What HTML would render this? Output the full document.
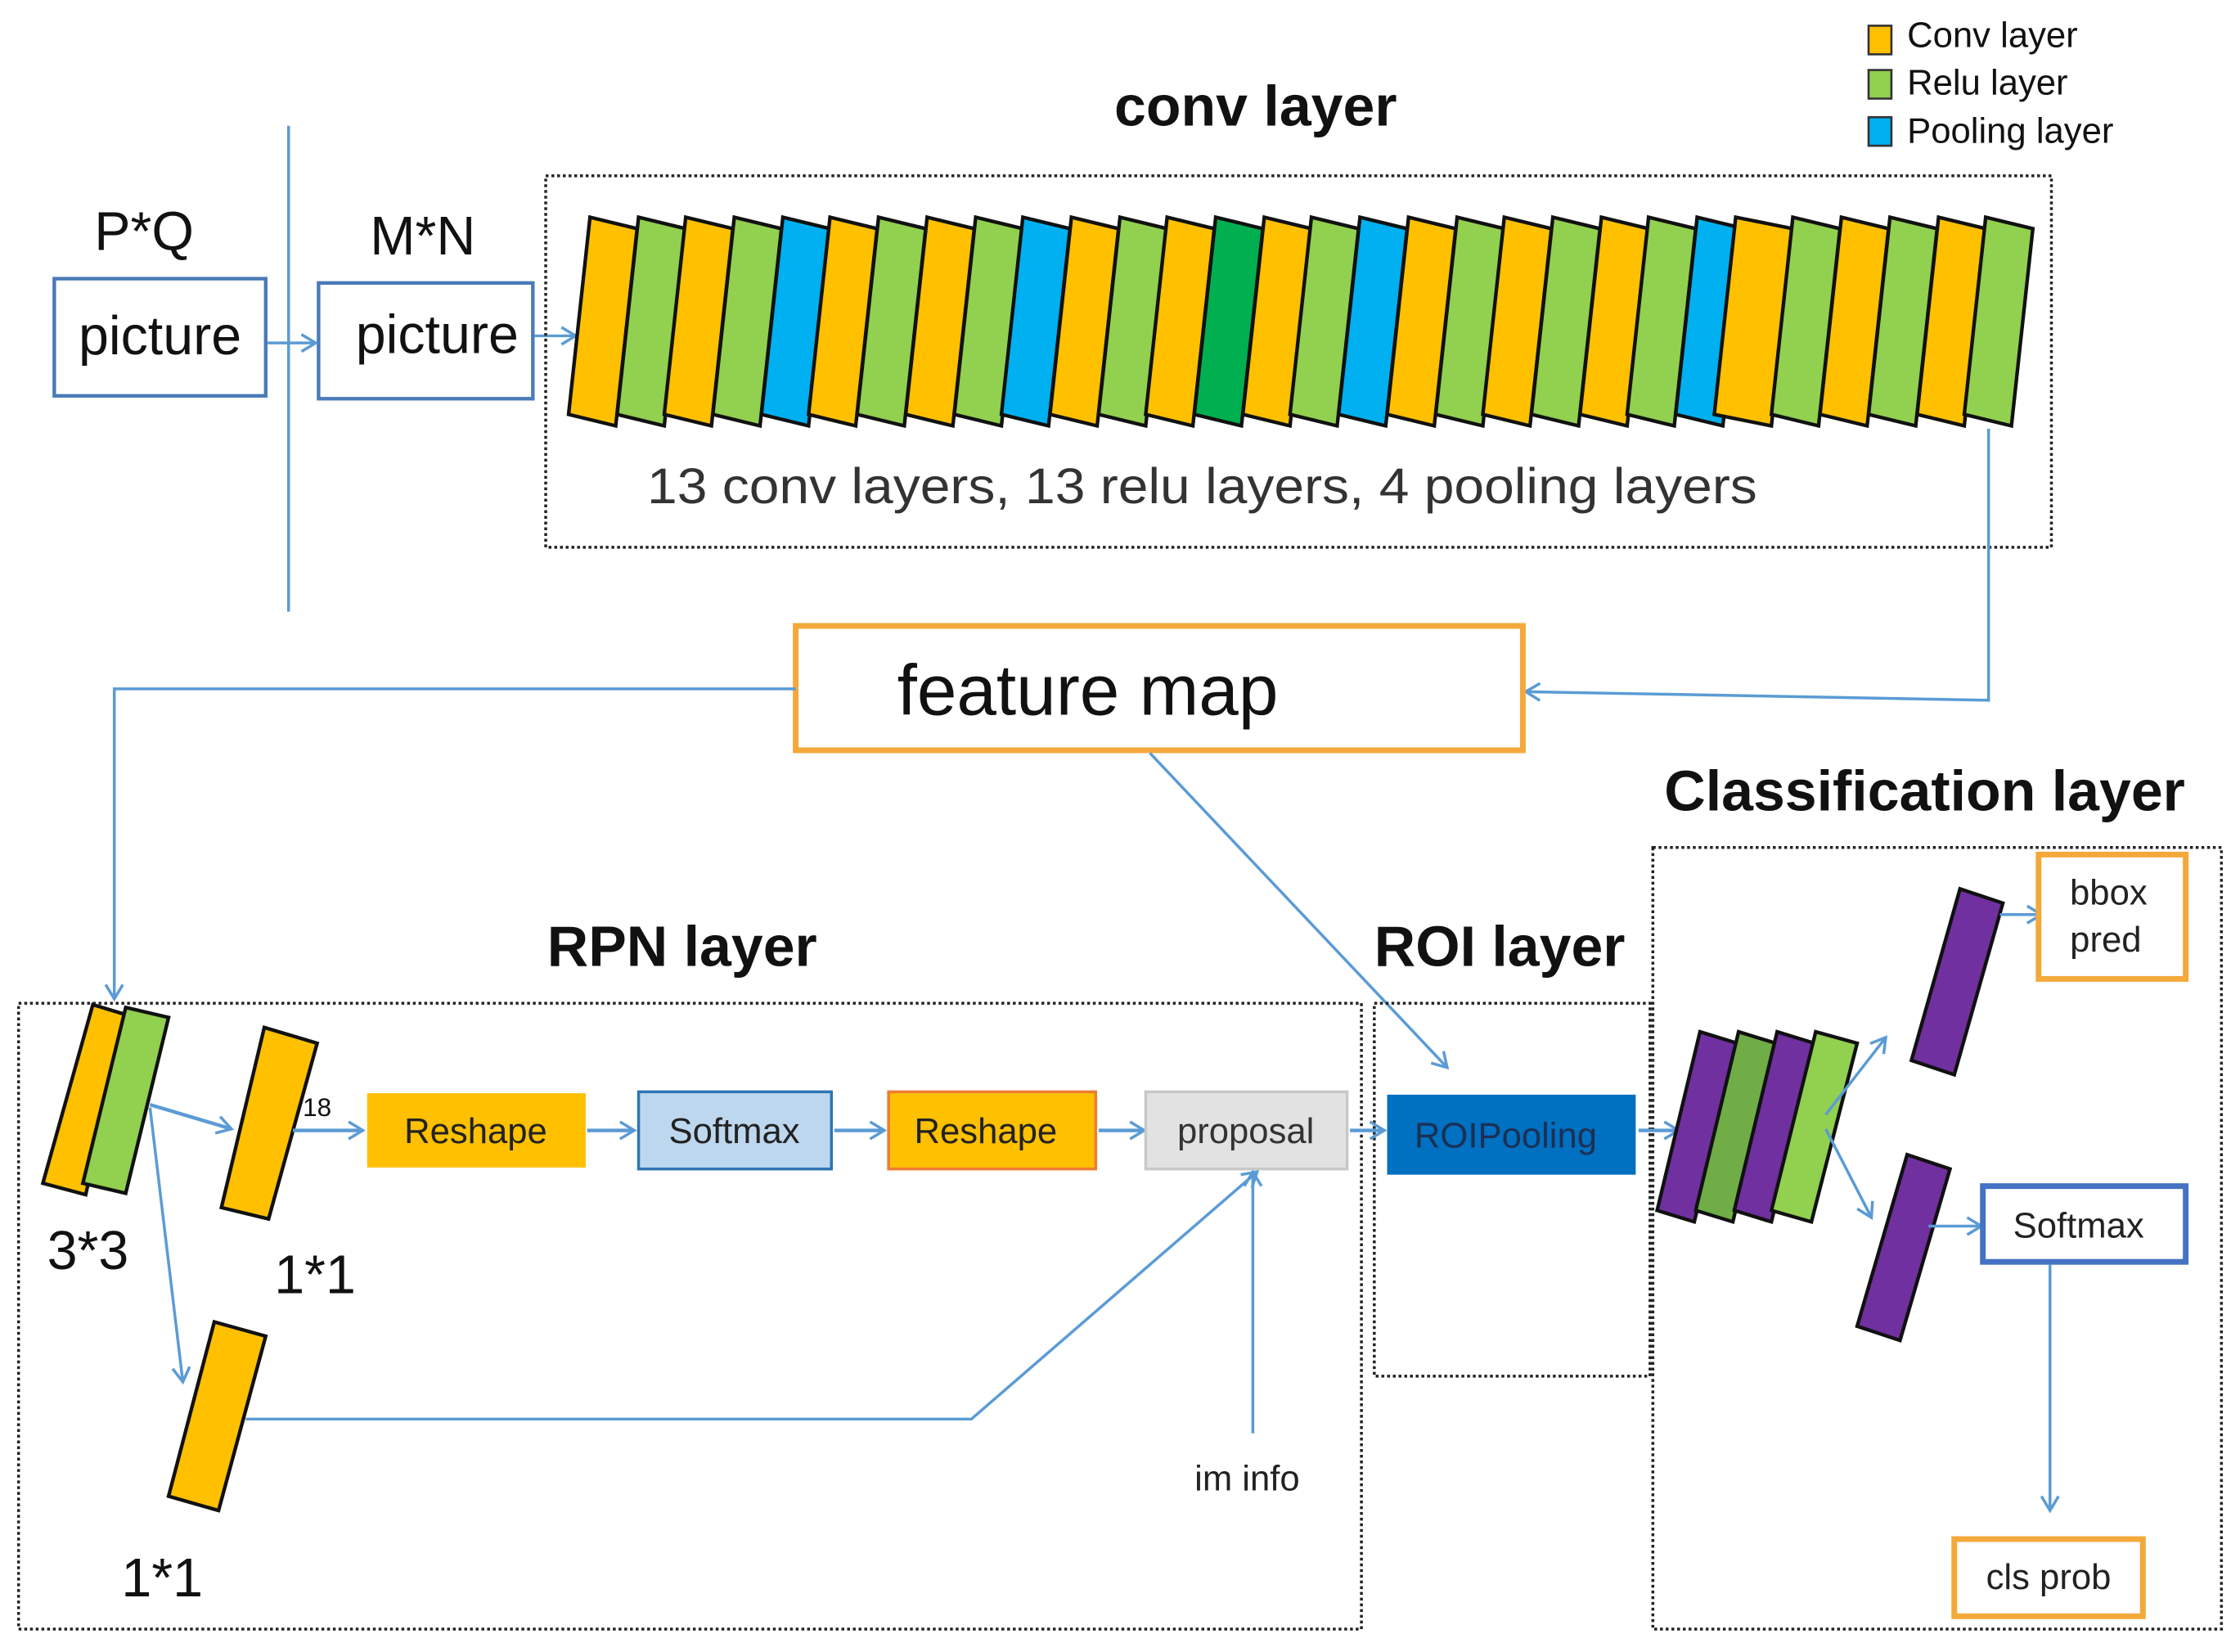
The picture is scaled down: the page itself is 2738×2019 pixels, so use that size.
<!DOCTYPE html>
<html><head><meta charset="utf-8"><style>
html,body{margin:0;padding:0;background:#fff;}
svg{display:block;}
text{font-family:"Liberation Sans Narrow","Liberation Sans",sans-serif;}
</style></head><body>
<svg width="2738" height="2019" viewBox="0 0 1568 1156" preserveAspectRatio="none" xmlns="http://www.w3.org/2000/svg">
<defs>
<marker id="a" markerWidth="14" markerHeight="14" refX="12" refY="7" orient="auto" markerUnits="userSpaceOnUse">
<polyline points="2,1 12,7 2,13" fill="none" stroke="#5b9bd5" stroke-width="2"/>
</marker>
</defs>
<rect width="1568" height="1156" fill="#fff"/>
<!-- legend -->
<rect x="1308" y="18" width="16" height="20" fill="#ffc000" stroke="#333" stroke-width="1.5"/>
<rect x="1308" y="49" width="16" height="20" fill="#92d050" stroke="#333" stroke-width="1.5"/>
<rect x="1308" y="82" width="16" height="20" fill="#00b0f0" stroke="#333" stroke-width="1.5"/>
<text x="1335" y="33" font-size="25" fill="#111">Conv layer</text>
<text x="1335" y="66" font-size="25" fill="#111">Relu layer</text>
<text x="1335" y="100" font-size="25" fill="#111">Pooling layer</text>
<text x="780" y="88" font-size="40" font-weight="bold" fill="#111">conv layer</text>
<text x="66" y="175" font-size="38" fill="#111">P*Q</text>
<text x="259" y="178" font-size="38" fill="#111">M*N</text>
<line x1="202" y1="88" x2="202" y2="428" stroke="#5b9bd5" stroke-width="2"/>
<rect x="38" y="195" width="148" height="82" fill="#fff" stroke="#4a7ab8" stroke-width="2.5"/>
<text x="112" y="248" font-size="38" text-anchor="middle" fill="#111">picture</text>
<rect x="223" y="198" width="150" height="81" fill="#fff" stroke="#4a7ab8" stroke-width="2.5"/>
<text x="306" y="247" font-size="38" text-anchor="middle" fill="#111">picture</text>
<line x1="187" y1="240" x2="221" y2="240" stroke="#5b9bd5" stroke-width="2" marker-end="url(#a)"/>
<line x1="374" y1="235" x2="403" y2="235" stroke="#5b9bd5" stroke-width="2" marker-end="url(#a)"/>
<rect x="382" y="123" width="1054" height="260" fill="none" stroke="#222" stroke-width="2" stroke-dasharray="2,2"/>
<g stroke="#111" stroke-width="2.5">
<polygon points="15,152 48,160 33,298 0,290" transform="translate(398,0)" fill="#ffc000"/>
<polygon points="15,152 48,160 33,298 0,290" transform="translate(432,0)" fill="#92d050"/>
<polygon points="15,152 48,160 33,298 0,290" transform="translate(465,0)" fill="#ffc000"/>
<polygon points="15,152 48,160 33,298 0,290" transform="translate(499,0)" fill="#92d050"/>
<polygon points="15,152 48,160 33,298 0,290" transform="translate(533,0)" fill="#00b0f0"/>
<polygon points="15,152 48,160 33,298 0,290" transform="translate(566,0)" fill="#ffc000"/>
<polygon points="15,152 48,160 33,298 0,290" transform="translate(600,0)" fill="#92d050"/>
<polygon points="15,152 48,160 33,298 0,290" transform="translate(634,0)" fill="#ffc000"/>
<polygon points="15,152 48,160 33,298 0,290" transform="translate(668,0)" fill="#92d050"/>
<polygon points="15,152 48,160 33,298 0,290" transform="translate(701,0)" fill="#00b0f0"/>
<polygon points="15,152 48,160 33,298 0,290" transform="translate(735,0)" fill="#ffc000"/>
<polygon points="15,152 48,160 33,298 0,290" transform="translate(769,0)" fill="#92d050"/>
<polygon points="15,152 48,160 33,298 0,290" transform="translate(802,0)" fill="#ffc000"/>
<polygon points="15,152 48,160 33,298 0,290" transform="translate(836,0)" fill="#00b050"/>
<polygon points="15,152 48,160 33,298 0,290" transform="translate(870,0)" fill="#ffc000"/>
<polygon points="15,152 48,160 33,298 0,290" transform="translate(903,0)" fill="#92d050"/>
<polygon points="15,152 48,160 33,298 0,290" transform="translate(937,0)" fill="#00b0f0"/>
<polygon points="15,152 48,160 33,298 0,290" transform="translate(971,0)" fill="#ffc000"/>
<polygon points="15,152 48,160 33,298 0,290" transform="translate(1005,0)" fill="#92d050"/>
<polygon points="15,152 48,160 33,298 0,290" transform="translate(1038,0)" fill="#ffc000"/>
<polygon points="15,152 48,160 33,298 0,290" transform="translate(1072,0)" fill="#92d050"/>
<polygon points="15,152 48,160 33,298 0,290" transform="translate(1106,0)" fill="#ffc000"/>
<polygon points="15,152 48,160 33,298 0,290" transform="translate(1139,0)" fill="#92d050"/>
<polygon points="15,152 48,160 33,298 0,290" transform="translate(1173,0)" fill="#00b0f0"/>
<polygon points="15,152 55,160 40,298 0,290" transform="translate(1200,0)" fill="#ffc000"/>
<polygon points="15,152 48,160 33,298 0,290" transform="translate(1240,0)" fill="#92d050"/>
<polygon points="15,152 48,160 33,298 0,290" transform="translate(1274,0)" fill="#ffc000"/>
<polygon points="15,152 48,160 33,298 0,290" transform="translate(1308,0)" fill="#92d050"/>
<polygon points="15,152 48,160 33,298 0,290" transform="translate(1342,0)" fill="#ffc000"/>
<polygon points="15,152 48,160 33,298 0,290" transform="translate(1375,0)" fill="#92d050"/>
</g>
<text x="453" y="352" font-size="35" fill="#333" font-family="Liberation Sans, sans-serif" textLength="777" lengthAdjust="spacingAndGlyphs">13 conv layers, 13 relu layers, 4 pooling layers</text>
<polyline points="1392,300 1392,490 1068,484" fill="none" stroke="#5b9bd5" stroke-width="2" marker-end="url(#a)"/>
<rect x="557" y="438" width="509" height="87" fill="#fff" stroke="#f5a83a" stroke-width="4"/>
<text x="628" y="500" font-size="50" fill="#111">feature map</text>
<polyline points="557,482 80,482 80,699" fill="none" stroke="#5b9bd5" stroke-width="2" marker-end="url(#a)"/>
<line x1="805" y1="527" x2="1013" y2="747" stroke="#5b9bd5" stroke-width="2" marker-end="url(#a)"/>
<text x="1165" y="567" font-size="40" font-weight="bold" fill="#111">Classification layer</text>
<text x="383" y="676" font-size="40" font-weight="bold" fill="#111">RPN layer</text>
<text x="962" y="676" font-size="40" font-weight="bold" fill="#111">ROI layer</text>
<g fill="none" stroke="#222" stroke-width="2" stroke-dasharray="2,2">
<rect x="13" y="702" width="940" height="438"/>
<rect x="962" y="702" width="193" height="261"/>
<rect x="1157" y="593" width="398" height="547"/>
</g>
<g stroke="#111" stroke-width="2.5">
<polygon points="65,703 88,710 60,836 30,828" fill="#ffc000"/>
<polygon points="88,705 118,712 88,835 58,828" fill="#92d050"/>
<polygon points="185,719 222,730 188,853 155,845" fill="#ffc000"/>
<polygon points="150,925 186,935 153,1057 118,1047" fill="#ffc000"/>
</g>
<text x="33" y="888" font-size="38" fill="#111">3*3</text>
<text x="192" y="905" font-size="38" fill="#111">1*1</text>
<text x="85" y="1117" font-size="38" fill="#111">1*1</text>
<g stroke="#5b9bd5" stroke-width="2.5" fill="none">
<line x1="105" y1="773" x2="162" y2="790" marker-end="url(#a)"/>
<line x1="205" y1="791" x2="254" y2="791" marker-end="url(#a)"/>
<line x1="411" y1="791" x2="444" y2="791" marker-end="url(#a)"/>
<line x1="584" y1="791" x2="619" y2="791" marker-end="url(#a)"/>
<line x1="769" y1="791" x2="801" y2="791" marker-end="url(#a)"/>
<line x1="945" y1="791" x2="969" y2="791" marker-end="url(#a)"/>
<line x1="1147" y1="791" x2="1175" y2="791" marker-end="url(#a)"/>
</g>
<g stroke="#5b9bd5" stroke-width="2" fill="none">
<line x1="105" y1="775" x2="128" y2="967" marker-end="url(#a)"/>
<polyline points="172,993 680,993 880,820" marker-end="url(#a)"/>
<line x1="877" y1="1003" x2="877" y2="820" marker-end="url(#a)"/>
</g>
<text x="212" y="781" font-size="18" fill="#111">18</text>
<rect x="257" y="765" width="153" height="52" fill="#ffc000"/>
<text x="333" y="800" font-size="25" text-anchor="middle" fill="#222">Reshape</text>
<rect x="447" y="764" width="135" height="54" fill="#bdd7ee" stroke="#2e75b6" stroke-width="2"/>
<text x="514" y="800" font-size="25" text-anchor="middle" fill="#222">Softmax</text>
<rect x="622" y="764" width="145" height="54" fill="#ffc000" stroke="#ed7d31" stroke-width="2"/>
<text x="690" y="800" font-size="25" text-anchor="middle" fill="#222">Reshape</text>
<rect x="802" y="764" width="141" height="54" fill="#e2e2e2" stroke="#c8c8c8" stroke-width="2"/>
<text x="872" y="800" font-size="25" text-anchor="middle" fill="#333">proposal</text>
<rect x="971" y="766" width="174" height="56" fill="#0070c0"/>
<text x="1054" y="803" font-size="25" text-anchor="middle" fill="#1c2f55">ROIPooling</text>
<text x="873" y="1043" font-size="25" text-anchor="middle" fill="#222">im info</text>
<g stroke="#111" stroke-width="2.5">
<polygon points="1190,722 1216,730 1186,855 1160,847" fill="#7030a0"/>
<polygon points="1217,722 1243,730 1213,855 1187,847" fill="#70ad47"/>
<polygon points="1244,722 1270,730 1240,855 1214,847" fill="#7030a0"/>
<polygon points="1271,722 1300,730 1268,855 1240,847" fill="#92d050"/>
<polygon points="1372,622 1402,632 1368,752 1338,742" fill="#7030a0"/>
<polygon points="1335,808 1365,818 1330,938 1300,928" fill="#7030a0"/>
</g>
<g stroke="#5b9bd5" stroke-width="2" fill="none">
<line x1="1278" y1="780" x2="1320" y2="726" marker-end="url(#a)"/>
<line x1="1278" y1="790" x2="1310" y2="852" marker-end="url(#a)"/>
<line x1="1400" y1="640" x2="1429" y2="640" marker-end="url(#a)"/>
<line x1="1350" y1="858" x2="1387" y2="858" marker-end="url(#a)"/>
<line x1="1435" y1="885" x2="1435" y2="1057" marker-end="url(#a)"/>
</g>
<rect x="1427" y="598" width="103" height="87" fill="#fff" stroke="#f5a83a" stroke-width="4"/>
<text x="1476" y="633" font-size="25" text-anchor="middle" fill="#222">bbox</text>
<text x="1474" y="666" font-size="25" text-anchor="middle" fill="#222">pred</text>
<rect x="1388" y="830" width="142" height="53" fill="#fff" stroke="#4472c4" stroke-width="4"/>
<text x="1455" y="866" font-size="25" text-anchor="middle" fill="#222">Softmax</text>
<rect x="1368" y="1077" width="132" height="54" fill="#fff" stroke="#f5a83a" stroke-width="4"/>
<text x="1434" y="1112" font-size="25" text-anchor="middle" fill="#222">cls prob</text>
</svg>
</body></html>
